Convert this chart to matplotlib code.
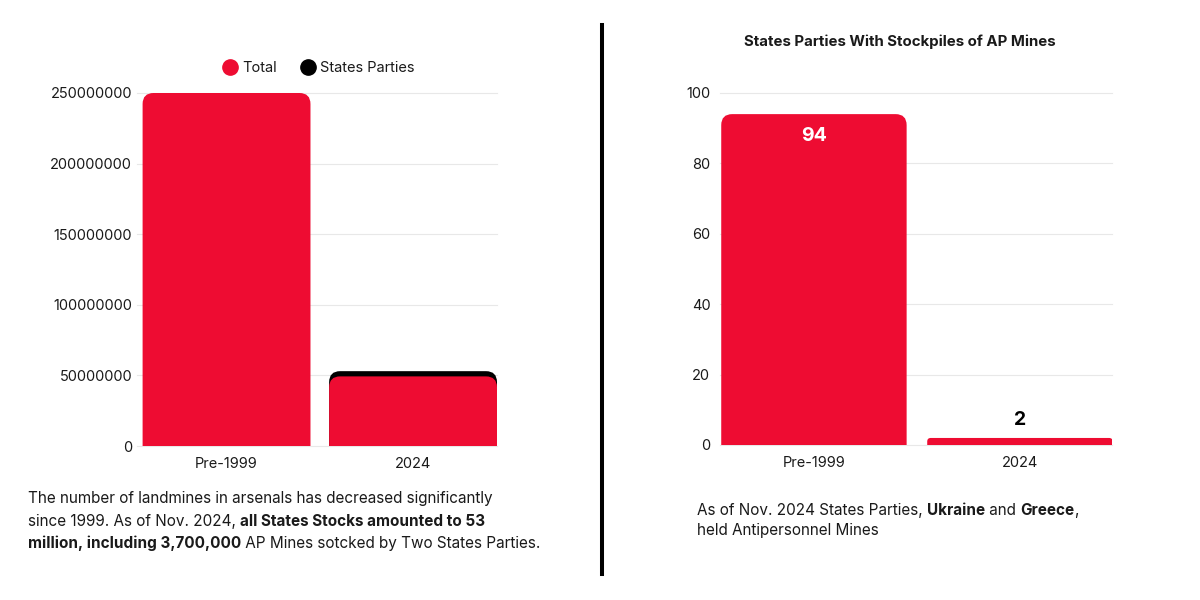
import matplotlib
matplotlib.use("Agg")
import matplotlib.pyplot as plt
from matplotlib.path import Path
from matplotlib.patches import PathPatch
from matplotlib.lines import Line2D
from matplotlib.ticker import FuncFormatter

plt.rcParams['font.family'] = ['Inter', 'DejaVu Sans']

RED = "#ee0c32"
BLACK = "#000000"
GRID = "#e8e8e8"
TXT = "#1a1a1a"

# данные
categories = ["Pre-1999", "2024"]
total_mines = [250000000, 49300000]
states_parties_mines = [0, 3700000]
parties_labels = ["Pre-1999", "2024"]
parties_with_stock = [94, 2]

W, H = 1200, 600


def fx(px):
    return px / W


def fy(py):
    return 1 - py / H


def rounded_bar(ax, x, bottom, height, width, color, r_px=11, zorder=3):
    # столбец со скруглёнными верхними углами
    x_per_px = (ax.get_xlim()[1] - ax.get_xlim()[0]) / (ax.get_position().width * W)
    y_per_px = (ax.get_ylim()[1] - ax.get_ylim()[0]) / (ax.get_position().height * H)
    r_px = min(r_px, height / y_per_px / 2)
    rx = r_px * x_per_px
    ry = r_px * y_per_px
    x0, x1 = x - width / 2, x + width / 2
    top = bottom + height
    verts = [(x0, bottom), (x0, top - ry), (x0, top), (x0 + rx, top),
             (x1 - rx, top), (x1, top), (x1, top - ry), (x1, bottom), (x0, bottom)]
    codes = [Path.MOVETO, Path.LINETO, Path.CURVE3, Path.CURVE3,
             Path.LINETO, Path.CURVE3, Path.CURVE3, Path.LINETO, Path.CLOSEPOLY]
    ax.add_patch(PathPatch(Path(verts, codes), facecolor=color, edgecolor='none', zorder=zorder))


def style_axes(ax):
    for s in ax.spines.values():
        s.set_visible(False)
    ax.tick_params(length=0, labelsize=10.5, labelcolor=TXT, pad=8)
    ax.grid(axis='y', color=GRID, linewidth=0.8)
    ax.set_axisbelow(True)


def text_width(fig, r, s, **kw):
    t = fig.text(0, 0, "|" + s + "|", **kw)
    t2 = fig.text(0, 0, "||", **kw)
    w = t.get_window_extent(r).width - t2.get_window_extent(r).width
    t.remove()
    t2.remove()
    return w


def rich_line(fig, x_px, y_px, parts, size=11):
    r = fig.canvas.get_renderer()
    x = x_px
    for s, bold in parts:
        kw = dict(fontsize=size, fontweight='bold' if bold else 'normal', color=TXT)
        fig.text(fx(x), fy(y_px), s, va='baseline', ha='left', **kw)
        x += text_width(fig, r, s, **kw)


fig = plt.figure(figsize=(12, 6), dpi=100)

# левый график
ax1 = fig.add_axes([fx(137), fy(446), fx(360), (446 - 93) / H])
ax1.set_xlim(-0.48, 1.45)
ax1.set_ylim(0, 250000000)
style_axes(ax1)
for gl in ax1.get_ygridlines():
    gl.set_clip_on(False)
xs = range(len(categories))
for i in xs:
    if states_parties_mines[i] > 0:
        rounded_bar(ax1, i, 0, total_mines[i] + states_parties_mines[i], 0.9, BLACK)
    rounded_bar(ax1, i, 0, total_mines[i], 0.9, RED, zorder=4)
ax1.set_xticks(list(xs))
ax1.set_xticklabels(categories)
ax1.set_yticks(range(0, 250000001, 50000000))
ax1.yaxis.set_major_formatter(FuncFormatter(lambda v, p: f"{int(v)}"))
ax1.tick_params(axis='y', pad=3.5)

handles = [Line2D([], [], marker='o', linestyle='none', markersize=11, color=RED),
           Line2D([], [], marker='o', linestyle='none', markersize=11, color=BLACK)]
fig.legend(handles, ["Total", "States Parties"], loc='center', bbox_to_anchor=(fx(318), fy(68)),
           ncol=2, frameon=False, fontsize=10.5, handletextpad=0.2, columnspacing=1.6,
           handlelength=1.2, labelcolor=TXT)

# правый график
ax2 = fig.add_axes([fx(720), fy(445), fx(392), (445 - 93) / H])
ax2.set_xlim(-0.456, 1.447)
ax2.set_ylim(0, 100)
style_axes(ax2)
for gl in ax2.get_ygridlines():
    gl.set_clip_on(False)
for i, v in enumerate(parties_with_stock):
    rounded_bar(ax2, i, 0, v, 0.9, RED)
ax2.set_xticks(range(len(parties_labels)))
ax2.set_xticklabels(parties_labels)
ax2.set_yticks(range(0, 101, 20))
ax2.tick_params(axis='y', pad=7)
ax2.text(0, parties_with_stock[0] - 6.2, str(parties_with_stock[0]), ha='center', va='center',
         color='white', fontsize=14, fontweight='bold', zorder=5)
ax2.text(1, parties_with_stock[1] + 5, str(parties_with_stock[1]), ha='center', va='center',
         color=BLACK, fontsize=14, fontweight='bold', zorder=5)
fig.text(fx(900), fy(42), "States Parties With Stockpiles of AP Mines", ha='center', va='center',
         fontsize=10.8, fontweight='bold', color=TXT)

# разделитель
fig.add_artist(Line2D([fx(602), fx(602)], [fy(25), fy(574)], color=BLACK, linewidth=2.9,
                      transform=fig.transFigure))

# подписи
rich_line(fig, 28, 503, [("The number of landmines in arsenals has decreased significantly", False)])
rich_line(fig, 28, 526, [("since 1999. As of Nov. 2024, ", False),
                         ("all States Stocks amounted to 53", True)])
rich_line(fig, 28, 548, [("million, including 3,700,000", True),
                         (" AP Mines sotcked by Two States Parties.", False)])

rich_line(fig, 697, 515, [("As of Nov. 2024 States Parties, ", False), ("Ukraine", True),
                          (" and ", False), ("Greece", True), (",", False)])
rich_line(fig, 697, 535, [("held Antipersonnel Mines", False)])

fig.savefig("out.png", dpi=100, facecolor='white')
